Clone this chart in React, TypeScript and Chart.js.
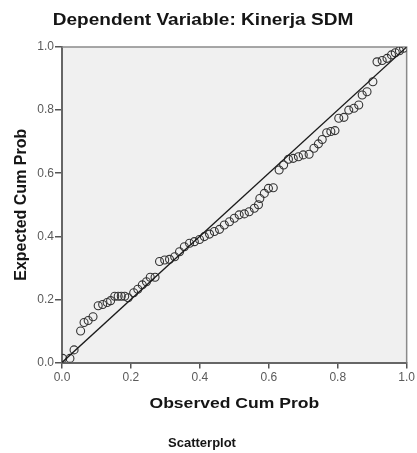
import React, { useEffect, useRef } from "react";
import { Chart, registerables } from "chart.js";

Chart.register(...registerables);

const chartTitle = "Dependent Variable: Kinerja SDM";
const xAxisTitle = "Observed Cum Prob";
const yAxisTitle = "Expected Cum Prob";
const footerText = "Scatterplot";
const tickValues = [0, 0.2, 0.4, 0.6, 0.8, 1.0];

const observedCumProb = [
  0.002, 0.023, 0.035, 0.054, 0.064, 0.076, 0.09, 0.105, 0.118, 0.131, 0.141, 0.153,
  0.163, 0.172, 0.182, 0.192, 0.208, 0.22, 0.233, 0.245, 0.256, 0.27, 0.283, 0.298,
  0.312, 0.327, 0.341, 0.355, 0.37, 0.384, 0.399, 0.413, 0.428, 0.442, 0.457, 0.471,
  0.486, 0.5, 0.514, 0.529, 0.543, 0.558, 0.57, 0.574, 0.587, 0.599, 0.613, 0.63,
  0.643, 0.657, 0.671, 0.686, 0.7, 0.717, 0.731, 0.744, 0.755, 0.768, 0.78, 0.792,
  0.803, 0.818, 0.832, 0.847, 0.861, 0.871, 0.885, 0.902, 0.914, 0.929, 0.943, 0.956,
  0.967, 0.979, 0.991,
];
const expectedCumProb = [
  0.013, 0.013, 0.04, 0.1, 0.127, 0.133, 0.145, 0.18, 0.184, 0.19, 0.196, 0.21,
  0.21, 0.21, 0.21, 0.205, 0.221, 0.232, 0.246, 0.256, 0.27, 0.27, 0.32, 0.325,
  0.327, 0.335, 0.351, 0.367, 0.378, 0.383, 0.39, 0.399, 0.407, 0.415, 0.422, 0.436,
  0.446, 0.457, 0.468, 0.471, 0.478, 0.489, 0.5, 0.52, 0.536, 0.552, 0.554, 0.61,
  0.626, 0.644, 0.647, 0.652, 0.658, 0.66, 0.679, 0.693, 0.707, 0.728, 0.732, 0.735,
  0.774, 0.777, 0.8, 0.806, 0.816, 0.848, 0.858, 0.89, 0.953, 0.957, 0.964, 0.975,
  0.982, 0.988, 0.996,
];
const referenceLineX = [0, 1];
const referenceLineY = [0, 1];

const W = 417;
const H = 453;

function wideText(ctx: any, text: string, x: number, y: number, sx: number) {
  ctx.save();
  ctx.translate(x, y);
  ctx.scale(sx, 1);
  ctx.fillText(text, 0, 0);
  ctx.restore();
}

const decorPlugin = {
  id: "decor",
  beforeDraw(chart: any) {
    const { ctx, chartArea: a } = chart;
    ctx.save();
    ctx.fillStyle = "#f0f0f0";
    ctx.fillRect(a.left, a.top, a.right - a.left, a.bottom - a.top);
    ctx.restore();
  },
  beforeDatasetsDraw(chart: any) {
    const { ctx, chartArea: a } = chart;
    ctx.save();
    ctx.strokeStyle = "#8a8a8a";
    ctx.lineWidth = 1.5;
    ctx.beginPath();
    ctx.moveTo(a.left, a.top);
    ctx.lineTo(a.right, a.top);
    ctx.lineTo(a.right, a.bottom);
    ctx.stroke();
    ctx.restore();
  },
  afterDraw(chart: any) {
    const { ctx, chartArea: a } = chart;
    ctx.save();
    ctx.fillStyle = "#151515";
    ctx.textAlign = "center";
    ctx.textBaseline = "middle";
    ctx.font = "bold 17px 'Liberation Sans', Arial, sans-serif";
    wideText(ctx, chartTitle, 203, 20, 1.12);
    ctx.font = "bold 15px 'Liberation Sans', Arial, sans-serif";
    wideText(ctx, xAxisTitle, (a.left + a.right) / 2, 404, 1.17);
    ctx.save();
    ctx.translate(22, (a.top + a.bottom) / 2);
    ctx.rotate(-Math.PI / 2);
    ctx.font = "bold 16px 'Liberation Sans', Arial, sans-serif";
    ctx.fillText(yAxisTitle, 0, 0);
    ctx.restore();
    ctx.font = "bold 13px 'Liberation Sans Narrow', 'Arial Narrow', sans-serif";
    ctx.fillText(footerText, 202, 443);
    ctx.restore();
  },
};

export default function App() {
  const ref = useRef<HTMLCanvasElement>(null);
  useEffect(() => {
    if (!ref.current) return;
    const points = observedCumProb.map((x, i) => ({ x, y: expectedCumProb[i] }));
    const line = referenceLineX.map((x, i) => ({ x, y: referenceLineY[i] }));
    const tickFont = { family: "'Liberation Sans', Arial, sans-serif", size: 12 };
    const chart = new Chart(ref.current, {
      type: "scatter",
      data: {
        datasets: [
          {
            type: "line",
            data: line,
            borderColor: "#1a1a1a",
            borderWidth: 1.3,
            pointRadius: 0,
            fill: false,
          } as any,
          {
            data: points,
            pointRadius: 4,
            pointBorderWidth: 1.1,
            pointBorderColor: "#333",
            pointBackgroundColor: "rgba(0,0,0,0)",
          },
        ],
      },
      options: {
        responsive: false,
        animation: false,
        devicePixelRatio: 1,
        layout: { padding: { left: 0, right: 9, top: 47, bottom: 0 } },
        plugins: { legend: { display: false }, tooltip: { enabled: false }, title: { display: false } },
        scales: {
          x: {
            type: "linear",
            min: 0,
            max: 1,
            afterFit: (s: any) => { s.height = 90.5; },
            afterBuildTicks: (s: any) => { s.ticks = tickValues.map((v) => ({ value: v })); },
            ticks: {
              color: "#5a5a5a",
              font: tickFont,
              padding: 2,
              callback: (v: any) => Number(v).toFixed(1),
              maxRotation: 0,
            },
            grid: { drawOnChartArea: false, tickLength: 6, color: "#555", lineWidth: 1.5 },
            border: { color: "#666", width: 2 },
          },
          y: {
            type: "linear",
            min: 0,
            max: 1,
            afterFit: (s: any) => { s.width = 62; },
            afterBuildTicks: (s: any) => { s.ticks = tickValues.map((v) => ({ value: v })); },
            ticks: {
              color: "#5a5a5a",
              font: tickFont,
              padding: 1,
              callback: (v: any) => Number(v).toFixed(1),
            },
            grid: { drawOnChartArea: false, tickLength: 7, color: "#555", lineWidth: 1.5 },
            border: { color: "#666", width: 2 },
          },
        },
      },
      plugins: [decorPlugin],
    });
    return () => chart.destroy();
  }, []);
  return (
    <div style={{ position: "fixed", left: 0, top: 0, width: W, height: H, background: "#fff" }}>
      <canvas ref={ref} width={W} height={H} style={{ width: W, height: H, display: "block" }} />
    </div>
  );
}
